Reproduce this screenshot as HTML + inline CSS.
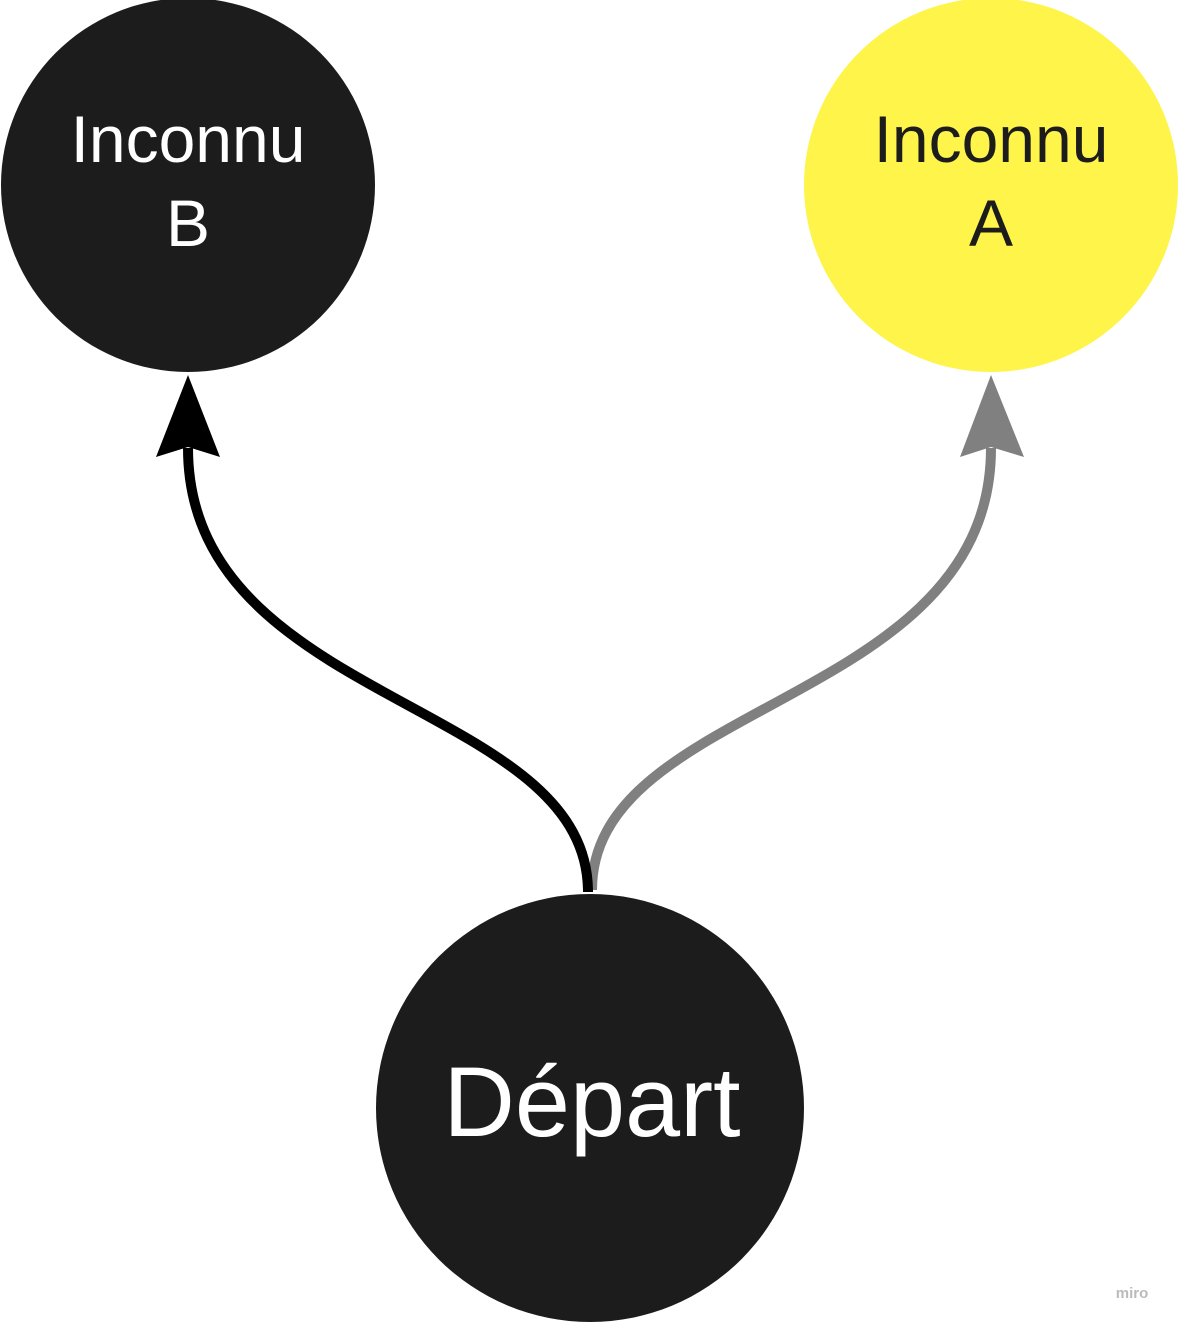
<!DOCTYPE html>
<html><head><meta charset="utf-8"><style>
html,body{margin:0;padding:0;background:#fff;width:1178px;height:1325px;overflow:hidden}
svg{display:block}
</style></head><body>
<svg width="1178" height="1325" viewBox="0 0 1178 1325" xmlns="http://www.w3.org/2000/svg">
<circle cx="188" cy="185" r="187" fill="#1c1c1c"/>
<circle cx="991" cy="185" r="187" fill="#fef44a"/>
<path d="M592,890 C592,700 991,705 991,448" fill="none" stroke="#808080" stroke-width="10"/>
<polygon points="991,375 960,457 991,447 1024,457" fill="#808080"/>
<path d="M588,892 C588,700 188,705 188,448" fill="none" stroke="#000" stroke-width="10"/>
<polygon points="188,375 156,457 188,447 220,457" fill="#000"/>
<circle cx="590" cy="1108" r="214" fill="#1c1c1c"/>
<g font-family="Liberation Sans, sans-serif" text-anchor="middle">
<text x="188" y="162" font-size="66" fill="#fff">Inconnu</text>
<text x="188" y="246" font-size="66" fill="#fff">B</text>
<text x="991" y="162" font-size="66" fill="#1c1c1c">Inconnu</text>
<text x="991" y="246" font-size="66" fill="#1c1c1c">A</text>
<text x="592" y="1136" font-size="99" fill="#fff">Départ</text>
<text x="1132" y="1298" font-size="15" fill="#bbb" font-weight="bold">miro</text>
</g>
</svg>
</body></html>
